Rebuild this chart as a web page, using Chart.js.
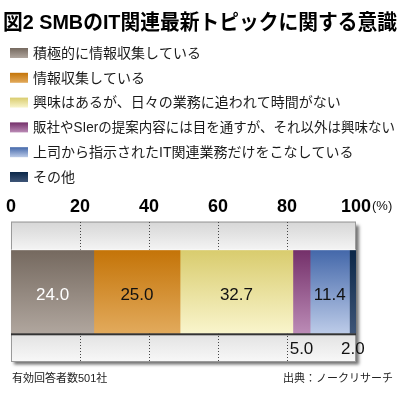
<!DOCTYPE html>
<html>
<head>
<meta charset="utf-8">
<script src="https://cdn.jsdelivr.net/npm/chart.js@4.4.0/dist/chart.umd.min.js"></script>
<style>
  body { margin: 0; background: #fff; }
  canvas { display: block; }
</style>
</head>
<body>
<canvas id="chart" width="400" height="395"></canvas>
<script>
// Data
const categories = ['SMB'];
const seriesLabels = [
    '積極的に情報収集している',
    '情報収集している',
    '興味はあるが、日々の業務に追われて時間がない',
    '販社やSIerの提案内容には目を通すが、それ以外は興味ない',
    '上司から指示されたIT関連業務だけをこなしている',
    'その他'
];
const seriesValues = [24.0, 25.0, 32.7, 5.0, 11.4, 2.0];
const axisTicks = [0, 20, 40, 60, 80, 100];

const titleText = '図2 SMBのIT関連最新トピックに関する意識';
const sampleNote = '有効回答者数501社';
const sourceNote = '出典：ノークリサーチ';
const unitText = '(%)';

// Colors (top / bottom of each bar gradient)
const topColors = ['#75695f', '#c47408', '#d9cc6e', '#74306a', '#4468aa', '#0b2748'];
const bottomColors = ['#b0a69e', '#e2aa5c', '#f9f5cc', '#bb8bb6', '#bccbe8', '#3e5577'];
const labelColors = ['#ffffff', '#111111', '#111111', '#111111', '#111111', '#111111'];

const FONT = '"Liberation Sans", "Noto Sans CJK JP", Arial, sans-serif';
const BAR_THICKNESS = 83;

function barGradient(chart, i) {
    const yScale = chart.scales.y;
    if (!yScale || !chart.chartArea) return topColors[i];
    const mid = yScale.getPixelForValue(0);
    const g = chart.ctx.createLinearGradient(0, mid - BAR_THICKNESS / 2, 0, mid + BAR_THICKNESS / 2);
    g.addColorStop(0, topColors[i]);
    g.addColorStop(1, bottomColors[i]);
    return g;
}

// Title, legend, framed plot box, footnotes
const framePlugin = {
    id: 'frame',
    beforeDraw(chart) {
        const ctx = chart.ctx;
        const area = chart.chartArea;
        ctx.save();

        // title
        ctx.fillStyle = '#000';
        ctx.font = 'bold 21px ' + FONT;
        ctx.textBaseline = 'middle';
        ctx.textAlign = 'left';
        ctx.fillText(titleText, 3, 23, 394);

        // legend
        ctx.font = '14px ' + FONT;
        seriesLabels.forEach((label, i) => {
            const y = 53 + i * 24.8;
            const g = ctx.createLinearGradient(0, y - 5, 0, y + 5);
            g.addColorStop(0, topColors[i]);
            g.addColorStop(1, bottomColors[i]);
            ctx.fillStyle = g;
            ctx.fillRect(10, y - 5, 18, 10);
            ctx.fillStyle = '#1a1a1a';
            ctx.fillText(label, 33, y + 1, 362);
        });

        // plot box with shadow
        const w = area.right - area.left;
        const h = area.bottom - area.top;
        ctx.save();
        ctx.shadowColor = 'rgba(0,0,0,0.55)';
        ctx.shadowBlur = 3;
        ctx.shadowOffsetX = 3;
        ctx.shadowOffsetY = 3;
        ctx.fillStyle = '#eee';
        ctx.fillRect(area.left, area.top, w, h);
        ctx.restore();

        const mid = chart.scales.y.getPixelForValue(0);
        const barTop = mid - BAR_THICKNESS / 2;
        const barBottom = mid + BAR_THICKNESS / 2;
        let g = ctx.createLinearGradient(0, area.top, 0, barTop);
        g.addColorStop(0, '#d6d6d6');
        g.addColorStop(1, '#f4f4f4');
        ctx.fillStyle = g;
        ctx.fillRect(area.left, area.top, w, barTop - area.top);
        g = ctx.createLinearGradient(0, barBottom, 0, area.bottom);
        g.addColorStop(0, '#e2e2e2');
        g.addColorStop(1, '#f8f8f8');
        ctx.fillStyle = g;
        ctx.fillRect(area.left, barBottom, w, area.bottom - barBottom);
        ctx.strokeStyle = '#9a9a9a';
        ctx.lineWidth = 1;
        ctx.strokeRect(area.left + 0.5, area.top + 0.5, w - 1, h - 1);

        // footnotes
        ctx.fillStyle = '#222';
        ctx.font = '11px ' + FONT;
        ctx.textAlign = 'left';
        ctx.fillText(sampleNote, 12, 379);
        ctx.textAlign = 'right';
        ctx.fillText(sourceNote, 393, 379);
        ctx.restore();
    },
    afterDatasetsDraw(chart) {
        const ctx = chart.ctx;
        const area = chart.chartArea;
        const mid = chart.scales.y.getPixelForValue(0);
        const barTop = mid - BAR_THICKNESS / 2;
        const barBottom = mid + BAR_THICKNESS / 2;
        ctx.save();

        // edge lines across the box
        ctx.fillStyle = 'rgba(255,255,255,0.5)';
        ctx.fillRect(area.left, barTop - 1, area.right - area.left, 1);
        ctx.fillStyle = '#333';
        ctx.fillRect(area.left, barBottom, area.right - area.left, 2);

        // value labels
        ctx.font = '17px ' + FONT;
        ctx.textAlign = 'center';
        ctx.textBaseline = 'middle';
        chart.data.datasets.forEach((ds, i) => {
            const bar = chart.getDatasetMeta(i).data[0];
            const v = ds.data[0];
            const cx = (bar.x + bar.base) / 2;
            if (v >= 10) {
                ctx.fillStyle = labelColors[i];
                ctx.fillText(v.toFixed(1), cx, bar.y + 4);
            } else {
                ctx.fillStyle = '#111';
                ctx.fillText(v.toFixed(1), cx, barBottom + 16);
            }
        });

        // unit after the last tick
        const xScale = chart.scales.x;
        ctx.font = '13px ' + FONT;
        ctx.textAlign = 'left';
        ctx.fillStyle = '#111';
        ctx.fillText(unitText, xScale.getPixelForValue(100) + 16, 206);
        ctx.restore();
    }
};

const datasets = seriesLabels.map((label, i) => ({
    label: label,
    data: [seriesValues[i]],
    backgroundColor: (c) => barGradient(c.chart, i),
    borderWidth: 0,
    barThickness: BAR_THICKNESS
}));

const chart = new Chart(document.getElementById('chart').getContext('2d'), {
    type: 'bar',
    data: {
        labels: categories,
        datasets: datasets
    },
    options: {
        indexAxis: 'y',
        responsive: false,
        animation: false,
        devicePixelRatio: 1,
        layout: {
            padding: { top: 192, left: 11, right: 44, bottom: 33 }
        },
        scales: {
            x: {
                stacked: true,
                position: 'top',
                min: 0,
                max: 100,
                afterBuildTicks: (scale) => {
                    scale.ticks = axisTicks.map(v => ({ value: v }));
                },
                ticks: {
                    color: '#000',
                    padding: 4,
                    font: { family: FONT, size: 18, weight: 'bold' }
                },
                grid: {
                    drawTicks: false,
                    lineWidth: 1,
                    color: (c) => (c.tick && (c.tick.value === 0 || c.tick.value === 100)) ? 'rgba(0,0,0,0)' : '#444'
                },
                border: { display: false, dash: [1, 2] }
            },
            y: {
                stacked: true,
                display: false
            }
        },
        plugins: {
            legend: { display: false },
            tooltip: { enabled: false }
        }
    },
    plugins: [framePlugin]
});
</script>
</body>
</html>
